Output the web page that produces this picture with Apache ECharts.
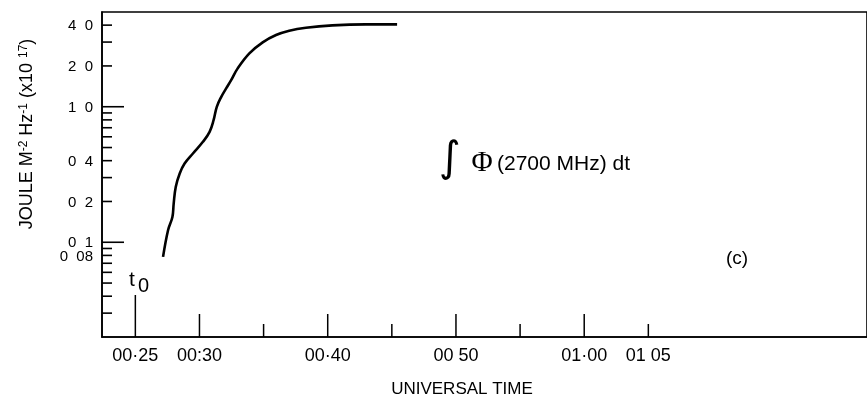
<!DOCTYPE html>
<html><head><meta charset="utf-8">
<script src="https://cdn.jsdelivr.net/npm/echarts@6/dist/echarts.min.js"></script>
<style>html,body{margin:0;padding:0;background:#fff}#c{width:867px;height:398px}</style>
</head><body><div id="c"></div>
<script>
// Universal time in minutes after 00:00
const timeMin = [27.16, 27.55, 27.89, 27.99, 28.15, 28.46, 28.84, 29.49, 30.27, 30.79, 31.10, 31.35, 31.70,
  32.08, 32.47, 32.98, 33.89, 34.93, 35.97, 37.00, 38.30, 40.36, 42.96, 45.41];
// Integrated flux, Joule m^-2 Hz^-1 (x10^17)
const flux = [0.078, 0.1227, 0.1538, 0.193, 0.256, 0.322, 0.381, 0.452, 0.551, 0.653, 0.796, 0.998, 1.183,
  1.365, 1.572, 1.919, 2.476, 2.985, 3.380, 3.636, 3.825, 3.984, 4.053, 4.05];

const xLabelValues = [25, 30, 40, 50, 60, 65];
const xLabelTexts = ['00·25', '00:30', '00·40', '00 50', '01·00', '01 05'];
const xMajorTicks = [30, 40, 50, 60];
const xMinorTicks = [35, 45, 55, 65];
const t0Tick = [25];

const yLabelValues = [4, 2, 1, 0.4, 0.2, 0.1, 0.08];
const yLabelTexts = ['4  0', '2  0', '1  0', '0  4', '0  2', '0  1', '0  08'];
const yMajorTicks = [0.1, 1];
const yMinorTicks = [0.03, 0.04, 0.05, 0.06, 0.07, 0.08, 0.09, 0.2, 0.3, 0.4, 0.5, 0.6, 0.7, 0.8, 0.9, 2, 3, 4];

const X_MIN = 22.4, X_MAX = 82.05, Y_MIN = 0.02, Y_MAX = 5;
const FONT = "'Liberation Sans', Arial, sans-serif";

function yTickSeries(values, len) {
  return {
    type: 'custom', silent: true, z: 5,
    data: values.map(v => [X_MIN, v]),
    renderItem: (params, api) => {
      const p = api.coord([api.value(0), api.value(1)]);
      return { type: 'line', shape: { x1: p[0], y1: p[1], x2: p[0] + len, y2: p[1] },
        style: { stroke: '#000', lineWidth: 1.6 } };
    }
  };
}
function xTickSeries(values, len, w) {
  return {
    type: 'custom', silent: true, z: 5,
    data: values.map(v => [v, Y_MIN]),
    renderItem: (params, api) => {
      const p = api.coord([api.value(0), api.value(1)]);
      return { type: 'line', shape: { x1: p[0], y1: p[1], x2: p[0], y2: p[1] - len },
        style: { stroke: '#000', lineWidth: w } };
    }
  };
}

const chart = echarts.init(document.getElementById('c'), null, { renderer: 'canvas' });
chart.setOption({
  animation: false,
  backgroundColor: '#fff',
  grid: { left: 102, right: -3, top: 12, bottom: 61, show: true, borderColor: '#000', borderWidth: 1.6 },
  xAxis: {
    type: 'value', min: X_MIN, max: X_MAX,
    axisLine: { lineStyle: { color: '#000', width: 1.6 } },
    axisTick: { show: false },
    splitLine: { show: false },
    axisLabel: {
      customValues: xLabelValues,
      formatter: v => { const i = xLabelValues.indexOf(Math.round(v)); return i >= 0 ? xLabelTexts[i] : ''; },
      color: '#000', fontFamily: FONT, fontSize: 18, margin: 10
    }
  },
  yAxis: {
    type: 'log', logBase: 10, min: Y_MIN, max: Y_MAX,
    axisLine: { show: true, lineStyle: { color: '#000', width: 1.6 } },
    axisTick: { show: false },
    axisLabel: { show: false },
    splitLine: { show: false },
    minorTick: { show: false }, minorSplitLine: { show: false }
  },
  series: [
    {
      type: 'line', data: timeMin.map((t, i) => [t, flux[i]]),
      showSymbol: false, smooth: 0.4, z: 10,
      lineStyle: { color: '#000', width: 2.6 }
    },
    yTickSeries(yMinorTicks, 10),
    yTickSeries(yMajorTicks, 22),
    xTickSeries(xMajorTicks, 23, 1.5),
    xTickSeries(xMinorTicks, 13, 1.5),
    xTickSeries(t0Tick, 42, 1.5),
    {
      type: 'custom', silent: true, z: 6,
      data: yLabelValues.map(v => [X_MIN, v]),
      renderItem: (params, api) => {
        const p = api.coord([api.value(0), api.value(1)]);
        return { type: 'text', x: p[0] - 9, y: p[1] + 1,
          style: { text: yLabelTexts[params.dataIndex], align: 'right', verticalAlign: 'middle',
            fill: '#000', font: '15px ' + FONT } };
      }
    }
  ],
  graphic: [
    {
      type: 'text', x: 27, y: 134, rotation: Math.PI / 2,
      style: {
        text: 'JOULE M{s|-2} Hz{s|-1} (x10 {s|17})',
        align: 'center', verticalAlign: 'middle', fill: '#000',
        font: '18px ' + FONT,
        rich: { s: { fontSize: 12, verticalAlign: 'top', fontFamily: FONT, fill: '#000' } }
      }
    },
    { type: 'text', x: 462, y: 389, style: { text: 'UNIVERSAL TIME', align: 'center', verticalAlign: 'middle', fill: '#000', font: '17px ' + FONT } },
    { type: 'text', x: 450, y: 160, style: { text: '∫', align: 'center', verticalAlign: 'middle', fill: '#000', font: 'italic 42px "DejaVu Sans", sans-serif' } },
    { type: 'text', x: 482, y: 163, style: { text: 'Φ', align: 'center', verticalAlign: 'middle', fill: '#000', font: '29px "Liberation Serif", serif' } },
    { type: 'text', x: 497, y: 164, style: { text: '(2700 MHz) dt', align: 'left', verticalAlign: 'middle', fill: '#000', font: '21px ' + FONT } },
    { type: 'text', x: 737, y: 259, style: { text: '(c)', align: 'center', verticalAlign: 'middle', fill: '#000', font: '19px ' + FONT } },
    { type: 'text', x: 129, y: 280, style: { text: 't', align: 'left', verticalAlign: 'middle', fill: '#000', font: '21px ' + FONT } },
    { type: 'text', x: 138, y: 286, style: { text: '0', align: 'left', verticalAlign: 'middle', fill: '#000', font: '20px ' + FONT } }
  ]
});
</script></body></html>
